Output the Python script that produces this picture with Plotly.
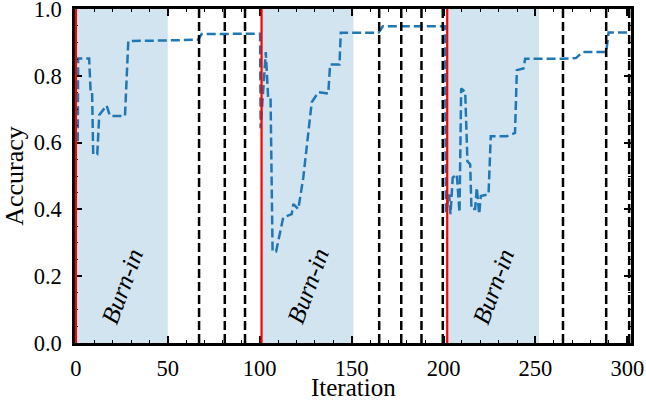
import plotly.graph_objects as go

# ---- data ----
iteration = [1, 1.2, 7.2, 8, 8.8, 9.4, 11.6, 12.7, 16.7, 18.5, 26.7, 28.5, 50, 66.4, 68.4, 100.2,
             100.5, 103.3, 104.6, 105.9, 107, 108.9, 112.8, 117.4, 118.3, 121, 123.7, 128.3,
             131.9, 137.3, 138.3, 143.4, 144.1, 164.6, 167, 200.8,
             201.3, 203, 203.8, 205, 207.2, 208.7, 209.6, 211.8, 213, 214.5, 215.2, 217.2,
             218.1, 219.4, 220.3, 224.5, 225.7, 234.4, 238.9, 239.9, 243.5, 244.4, 265,
             272, 274.5, 276, 288.5, 289.8, 301]
accuracy = [0.604, 0.852, 0.852, 0.752, 0.752, 0.565, 0.565, 0.683, 0.711, 0.680, 0.680, 0.904, 0.906, 0.908, 0.925, 0.926,
            0.643, 0.871, 0.733, 0.733, 0.274, 0.274, 0.376, 0.386, 0.416, 0.401, 0.495, 0.721,
            0.751, 0.747, 0.834, 0.834, 0.929, 0.929, 0.948, 0.948,
            0.390, 0.445, 0.386, 0.495, 0.505, 0.391, 0.762, 0.752, 0.544, 0.535, 0.401, 0.401,
            0.465, 0.386, 0.440, 0.445, 0.619, 0.619, 0.629, 0.817, 0.822, 0.851, 0.851,
            0.853, 0.865, 0.871, 0.871, 0.930, 0.930]

restarts = [0, 101, 202]             # red solid lines
burn_in_len = 50                     # shaded burn-in length
events = [67, 81, 92, 165, 177, 188, 199.6, 265, 288.5, 301]   # black dashed lines
x_ticks = [0, 50, 100, 150, 200, 250, 300]
y_ticks = [0.0, 0.2, 0.4, 0.6, 0.8, 1.0]

BLUE = "#1f77b4"
SHADE = "#d2e4f0"
FONT = "Liberation Serif"

fig = go.Figure()
fig.add_trace(go.Scatter(x=iteration, y=accuracy, mode="lines",
                         line=dict(color=BLUE, width=2.5, dash="9px,4px"),
                         showlegend=False, hoverinfo="skip"))

shapes = []
for r in restarts:
    shapes.append(dict(type="rect", xref="x", yref="paper", x0=r, x1=r + burn_in_len,
                       y0=0, y1=1, fillcolor=SHADE, line=dict(width=0), layer="below"))
for e in events:
    shapes.append(dict(type="line", xref="x", yref="paper", x0=e, x1=e, y0=0, y1=1,
                       line=dict(color="black", width=2.5, dash="9px,4px"), layer="above"))
for r in restarts:
    shapes.append(dict(type="line", xref="x", yref="paper", x0=r, x1=r, y0=0, y1=1,
                       line=dict(color="red", width=2.2), layer="above"))

annotations = []
for r in restarts:
    annotations.append(dict(x=r + 25, y=0.17, xref="x", yref="y", text="<i>Burn-in</i>",
                            showarrow=False, textangle=-70, xanchor="center", yanchor="middle",
                            font=dict(family=FONT, size=25, color="black")))
# x-axis title
annotations.append(dict(x=0.5, y=-0.133, xref="paper", yref="paper", text="Iteration",
                        showarrow=False, xanchor="center", yanchor="middle",
                        font=dict(family=FONT, size=25, color="black")))

axis_common = dict(showline=True, linecolor="black", linewidth=2.5, mirror="allticks",
                   ticks="inside", ticklen=7, tickwidth=2, tickcolor="black",
                   showgrid=False, zeroline=False, automargin=False,
                   ticklabeloverflow="allow",
                   tickfont=dict(family=FONT, size=22.5, color="black"))

fig.update_xaxes(range=[-0.5, 302], tickvals=x_ticks,
                 minor=dict(dtick=10, tick0=0, ticks="inside", ticklen=3.5, tickwidth=1, tickcolor="black"),
                 ticklabelstandoff=3,
                 **axis_common)
fig.update_yaxes(range=[0, 1], tickvals=y_ticks, tickformat=".1f",
                 minor=dict(dtick=0.05, tick0=0, ticks="inside", ticklen=3.5, tickwidth=1, tickcolor="black"),
                 title=dict(text="Accuracy", font=dict(family=FONT, size=26, color="black"), standoff=4),
                 ticklabelstandoff=6,
                 **axis_common)

fig.update_layout(width=646, height=405, margin=dict(l=75, r=15, t=9, b=62),
                  plot_bgcolor="white", paper_bgcolor="white",
                  shapes=shapes, annotations=annotations, showlegend=False)

fig.write_html("out.html")
